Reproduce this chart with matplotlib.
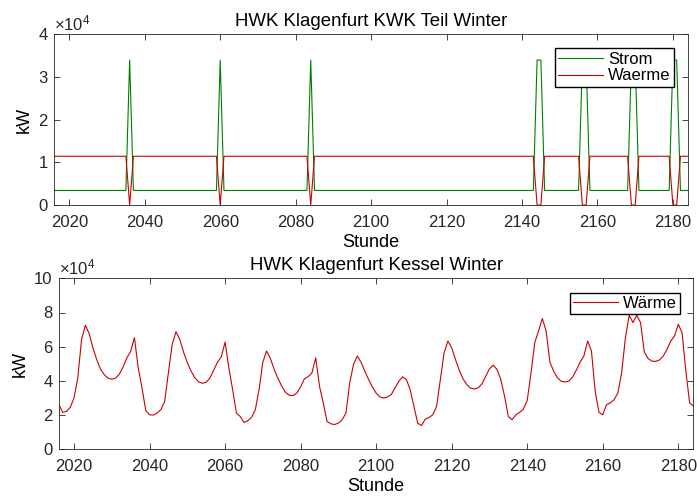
import numpy as np
import matplotlib
matplotlib.use("Agg")
import matplotlib.pyplot as plt

plt.rcParams["font.family"] = ["Liberation Sans", "DejaVu Sans"]
plt.rcParams["mathtext.fontset"] = "custom"
plt.rcParams["mathtext.rm"] = "Liberation Sans"
plt.rcParams["mathtext.it"] = "Liberation Sans:italic"

# hourly time axis (winter week)
stunden = np.arange(2016, 2185)

# KWK part: constant operation with short load swaps
strom_basis = 3400.0
strom_spitze = 33900.0
waerme_basis = 11400.0
waerme_spitze = 0.0
spitzen_stunden = [2036, 2060, 2084, 2144, 2145, 2156, 2157, 2169, 2170, 2180, 2181]

# boiler heat output, in units of 1e4 kW
kessel_waerme = [
    2.61, 2.16, 2.22, 2.45, 3.00, 4.18, 6.43, 7.25, 6.78, 5.94,
    5.25, 4.70, 4.37, 4.16, 4.10, 4.16, 4.39, 4.82, 5.35, 5.73,
    6.53, 4.76, 3.59, 2.27, 2.02, 2.00, 2.12, 2.31, 2.80, 4.50,
    6.14, 6.88, 6.43, 5.69, 5.06, 4.57, 4.18, 3.94, 3.86, 3.92,
    4.18, 4.63, 5.10, 5.41, 6.27, 4.76, 3.49, 2.12, 1.92, 1.57,
    1.67, 1.86, 2.31, 3.49, 5.10, 5.75, 5.31, 4.67, 4.15, 3.69,
    3.33, 3.16, 3.14, 3.29, 3.65, 4.12, 4.25, 4.47, 5.35, 3.69,
    2.71, 1.63, 1.49, 1.45, 1.53, 1.73, 2.12, 3.88, 4.96, 5.45,
    5.10, 4.57, 4.08, 3.65, 3.29, 3.06, 3.00, 3.06, 3.20, 3.59,
    3.98, 4.24, 4.08, 3.49, 2.51, 1.53, 1.39, 1.76, 1.86, 2.02,
    2.51, 4.08, 5.65, 6.33, 5.94, 5.25, 4.63, 4.12, 3.78, 3.57,
    3.53, 3.59, 3.82, 4.27, 4.71, 4.92, 4.67, 4.08, 3.10, 1.92,
    1.73, 2.02, 2.16, 2.35, 2.86, 4.47, 6.24, 6.92, 7.65, 6.92,
    5.10, 4.57, 4.18, 3.98, 3.94, 3.98, 4.22, 4.63, 5.10, 5.45,
    6.33, 5.75, 3.39, 2.16, 2.02, 2.61, 2.71, 2.90, 3.29, 4.47,
    6.53, 7.84, 7.41, 7.84, 7.41, 5.69, 5.31, 5.16, 5.14, 5.22,
    5.45, 5.84, 6.33, 6.63, 7.31, 6.82, 4.57, 2.71, 2.55,
]

spitze = np.isin(stunden, spitzen_stunden)
strom = np.where(spitze, strom_spitze, strom_basis)
waerme = np.where(spitze, waerme_spitze, waerme_basis)
kessel = np.array(kessel_waerme) * 1e4

GRUEN = "#008000"
ROT = "#cc0000"
ACHSE = "#262626"
FS = 12


def style_axes(ax, ymax, ystep):
    ax.set_xlim(2016, 2184)
    ax.set_ylim(0, ymax)
    ax.set_xticks(np.arange(2020, 2184, 20))
    yt = np.arange(0, ymax + 1, ystep)
    ax.set_yticks(yt)
    ax.set_yticklabels([f"{v / 1e4:g}" for v in yt])
    ax.tick_params(direction="in", length=4.5, width=0.6, top=True, right=True,
                   labelsize=FS, colors=ACHSE, labelcolor=ACHSE, pad=4.5)
    ax.tick_params(axis="x", pad=7)
    for s in ax.spines.values():
        s.set_color(ACHSE)
        s.set_linewidth(0.6)
    ax.set_xlabel("Stunde", fontsize=13, labelpad=3)
    ax.set_ylabel("kW", fontsize=13, labelpad=4)
    ax.text(0.0, 1.005, r"$\times10^{4}$", transform=ax.transAxes,
            fontsize=FS, color=ACHSE, ha="left", va="bottom")


fig = plt.figure(figsize=(6.97, 4.99), dpi=100)
W, H = 697.0, 499.0

# KWK part
ax1 = fig.add_axes([54.2 / W, 1 - 205 / H, (688 - 54.2) / W, 171 / H])
ax1.plot(stunden, strom, color=GRUEN, lw=0.8, label="Strom")
ax1.plot(stunden, waerme, color=ROT, lw=0.8, label="Waerme")
style_axes(ax1, 40000, 10000)
ax1.set_title("HWK Klagenfurt KWK Teil Winter", fontsize=13.4, pad=6)
ax1.legend(loc="upper right", bbox_to_anchor=(0.978, 0.916), borderaxespad=0,
           fancybox=False, edgecolor="black", framealpha=1, fontsize=FS,
           handlelength=2.7, handletextpad=0.3, borderpad=0.2, labelspacing=0.1)

# boiler
ax2 = fig.add_axes([58.9 / W, 1 - 449.3 / H, (693.4 - 58.9) / W, 171 / H])
ax2.plot(stunden, kessel, color=ROT, lw=0.8, label="Wärme")
style_axes(ax2, 100000, 20000)
ax2.set_title("HWK Klagenfurt Kessel Winter", fontsize=13.4, pad=6)
ax2.legend(loc="upper right", bbox_to_anchor=(0.979, 0.916), borderaxespad=0,
           fancybox=False, edgecolor="black", framealpha=1, fontsize=FS,
           handlelength=2.7, handletextpad=0.3, borderpad=0.2, labelspacing=0.1)

fig.savefig("out.png", dpi=100)
